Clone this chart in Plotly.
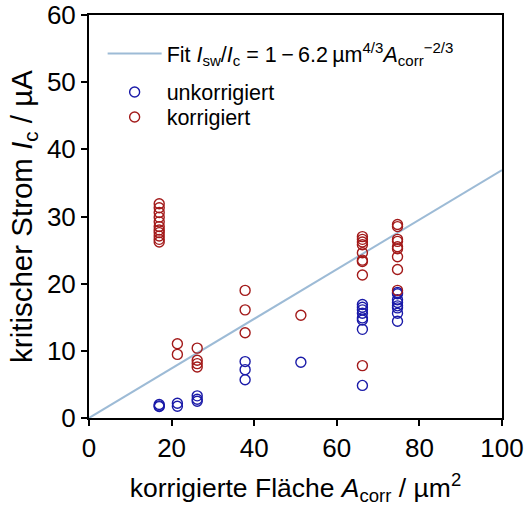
import plotly.graph_objects as go

# Data
area_unkorr = [17.0, 17.0, 17.0,
               21.4, 21.4,
               26.2, 26.2, 26.2,
               37.8, 37.8, 37.8,
               51.3,
               66.2, 66.2, 66.2, 66.2, 66.2, 66.2, 66.2, 66.2,
               74.7, 74.7, 74.7, 74.7, 74.7, 74.7, 74.7, 74.7]
ic_unkorr = [2.0, 1.8, 1.7,
             2.2, 1.75,
             3.3, 2.8, 2.5,
             8.4, 7.2, 5.7,
             8.3,
             16.9, 16.5, 16.1, 15.6, 14.9, 14.6, 13.2, 4.85,
             18.7, 18.5, 17.6, 17.2, 16.7, 16.4, 15.6, 14.4]

area_korr = [17.0] * 11 + [21.4, 21.4] + [26.2] * 4 + [37.8] * 3 + [51.3] + [66.2] * 9 + [74.7] * 9
ic_korr = [31.9, 31.3, 30.6, 29.9, 29.2, 28.5, 28.0, 27.6, 27.1, 26.6, 26.2,
           11.06, 9.47,
           10.4, 8.6, 8.1, 7.6,
           19.0, 16.1, 12.7,
           15.3,
           27.0, 26.6, 26.2, 25.8, 24.6, 23.5, 23.3, 21.3, 7.8,
           28.8, 28.5, 26.6, 26.3, 25.5, 25.2, 24.0, 22.1, 19.0]

fit_x = [0, 100]
fit_y = [0, 36.9]

x_ticks = [0, 20, 40, 60, 80, 100]
y_ticks = [0, 10, 20, 30, 40, 50, 60]

FONT = "Liberation Sans, Arial, sans-serif"
RED = "#a31a1a"
BLUE = "#1a1aa8"
FIT = "#9dbbd6"
LEG_FONT = 21.5

fig = go.Figure()
fig.add_trace(go.Scatter(
    x=fit_x, y=fit_y, mode="lines",
    line=dict(color=FIT, width=2),
    name="Fit <i>I</i><sub>sw</sub>/<i>I</i><sub>c</sub> = 1\u2009−\u20096.2\u2009µm<sup>4/3</sup><i>A</i><sub>corr</sub><sup>−2/3</sup>",
    legend="legend",
))
fig.add_trace(go.Scatter(
    x=area_unkorr, y=ic_unkorr, mode="markers",
    marker=dict(symbol="circle-open", size=10, color=BLUE, line=dict(width=1.4, color=BLUE)),
    name="unkorrigiert",
    legend="legend2",
))
fig.add_trace(go.Scatter(
    x=area_korr, y=ic_korr, mode="markers",
    marker=dict(symbol="circle-open", size=10, color=RED, line=dict(width=1.4, color=RED)),
    name="korrigiert",
    legend="legend3",
))

axis_common = dict(
    showgrid=False, zeroline=False, showline=True, linecolor="black", linewidth=2,
    mirror=True, ticks="outside", ticklen=6, tickwidth=2, tickcolor="black",
    tickfont=dict(family=FONT, size=26, color="black"), automargin=False,
)

leg_common = dict(xanchor="left", yanchor="middle", x=0.033,
                  bgcolor="rgba(0,0,0,0)", font=dict(family=FONT, size=LEG_FONT),
                  itemwidth=54)

fig.update_layout(
    width=526, height=511,
    margin=dict(l=89, r=24, t=15, b=93),
    plot_bgcolor="white", paper_bgcolor="white",
    font=dict(family=FONT, size=LEG_FONT, color="black"),
    xaxis=dict(range=[0, 100], tickvals=x_ticks,
               title=dict(text="korrigierte Fläche <i>A</i><sub>corr</sub> / µm<sup>2</sup>",
                          font=dict(family=FONT, size=26.5), standoff=16),
               **axis_common),
    yaxis=dict(range=[0, 60], tickvals=y_ticks,
               title=dict(text="kritischer Strom <i>I</i><sub>c</sub> / µA\u00a0\u00a0\u00a0\u00a0\u00a0",
                          font=dict(family=FONT, size=29.5), standoff=6),
               **axis_common),
    legend=dict(y=0.9045, **leg_common),
    legend2=dict(y=0.8089, **leg_common),
    legend3=dict(y=0.7469, **leg_common),
    showlegend=True,
)

fig.write_html("out.html", config={"displayModeBar": False},
               post_script="document.body.style.margin='0';")
